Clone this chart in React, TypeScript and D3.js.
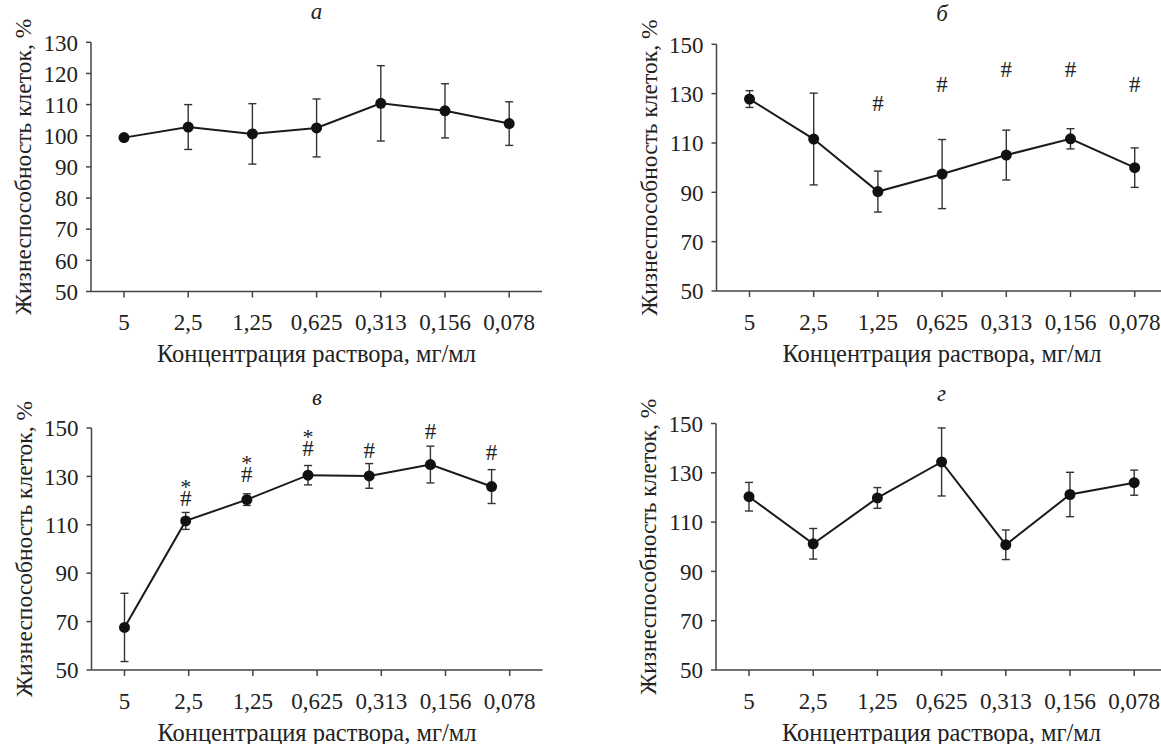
import React from 'react';
import * as d3 from 'd3';

// concentrations, mg/ml
const concentrations = ['5', '2,5', '1,25', '0,625', '0,313', '0,156', '0,078'];

// panel а
const meanA = [99.4, 102.8, 100.6, 102.5, 110.4, 108.0, 103.9];
const sdA = [0.5, 7.2, 9.7, 9.3, 12.1, 8.7, 7.0];

// panel б
const meanB = [127.8, 111.6, 90.3, 97.4, 105.1, 111.7, 100.0];
const sdB = [3.4, 18.6, 8.3, 14.0, 10.1, 4.1, 8.0];
const hashB = [null, null, 126.3, 134.2, 140.3, 140.3, 134.2];

// panel в
const meanV = [67.6, 111.6, 120.4, 130.5, 130.2, 134.9, 125.8];
const sdV = [14.1, 3.5, 2.4, 4.0, 5.1, 7.6, 7.0];
const hashV = [null, 121.3, 131.0, 141.8, 141.2, 149.0, 140.0];
const starV = [null, 128.2, 137.9, 148.9, null, null, null];

// panel г
const meanG = [120.3, 101.2, 119.8, 134.4, 100.8, 121.2, 126.0];
const sdG = [5.8, 6.2, 4.2, 13.8, 6.0, 9.0, 5.1];

const ticksA = [50, 60, 70, 80, 90, 100, 110, 120, 130];
const ticksOther = [50, 70, 90, 110, 130, 150];

const FONT = '"Liberation Serif", "Times New Roman", serif';
const yTitle = 'Жизнеспособность клеток, %';
const xTitle = 'Концентрация раствора, мг/мл';

interface PanelProps {
  letter: string;
  x0: number;
  top: number;
  bottom: number;
  domain: [number, number];
  ticks: number[];
  mean: number[];
  sd: number[];
  hash?: (number | null)[];
  star?: (number | null)[];
  pointStep?: number;
}

const Panel: React.FC<PanelProps> = ({ letter, x0, top, bottom, domain, ticks, mean, sd, hash, star, pointStep = 1 }) => {
  const axisLen = 451;
  const first = x0 + 33;
  const step = 64.2;

  const x = d3.scalePoint<string>()
    .domain(concentrations)
    .range([first, first + step * (concentrations.length - 1)]);

  // markers in some panels sit slightly off the ticks
  const xp = d3.scalePoint<string>()
    .domain(concentrations)
    .range([first, first + step * pointStep * (concentrations.length - 1)]);

  const y = d3.scaleLinear().domain(domain).range([bottom, top]);

  const line = d3.line<number>()
    .x((_, i) => xp(concentrations[i]) as number)
    .y(d => y(d));

  const mid = (x0 + x0 + axisLen) / 2;

  return (
    <g fontFamily={FONT} fill="#222">
      <text x={mid} y={top - 23} fontSize={23} fontStyle="italic" textAnchor="middle">{letter}</text>

      {/* axes */}
      <line x1={x0} x2={x0} y1={top} y2={bottom} stroke="#444" strokeWidth={1.5} />
      <line x1={x0} x2={x0 + axisLen} y1={bottom} y2={bottom} stroke="#444" strokeWidth={1.5} />

      {ticks.map(t => (
        <g key={t}>
          <line x1={x0 - 5} x2={x0} y1={y(t)} y2={y(t)} stroke="#444" strokeWidth={1.5} />
          <text x={x0 - 13} y={y(t)} dy="0.36em" fontSize={23} textAnchor="end">{t}</text>
        </g>
      ))}

      {concentrations.map(c => (
        <g key={c}>
          <line x1={x(c)} x2={x(c)} y1={bottom} y2={bottom + 6} stroke="#444" strokeWidth={1.5} />
          <text x={x(c)} y={bottom + 38.5} fontSize={23} textAnchor="middle">{c}</text>
        </g>
      ))}

      <text x={mid} y={bottom + 70.5} fontSize={24.5} textAnchor="middle">{xTitle}</text>
      <text transform={`translate(${x0 - 60},${(top + bottom) / 2}) rotate(-90)`} fontSize={23.5} textAnchor="middle">{yTitle}</text>

      {/* error bars */}
      {mean.map((m, i) => {
        const cx = xp(concentrations[i]) as number;
        const hi = y(m + sd[i]);
        const lo = y(m - sd[i]);
        return (
          <g key={i} stroke="#333" strokeWidth={1.4}>
            <line x1={cx} x2={cx} y1={hi} y2={lo} />
            <line x1={cx - 4} x2={cx + 4} y1={hi} y2={hi} />
            <line x1={cx - 4} x2={cx + 4} y1={lo} y2={lo} />
          </g>
        );
      })}

      <path d={line(mean) as string} fill="none" stroke="#1a1a1a" strokeWidth={2} />

      {mean.map((m, i) => (
        <circle key={i} cx={xp(concentrations[i])} cy={y(m)} r={5.5} fill="#111" />
      ))}

      {hash && hash.map((h, i) => h === null ? null : (
        <text key={'h' + i} x={xp(concentrations[i])} y={y(h)} dy="0.36em" fontSize={23} textAnchor="middle">#</text>
      ))}
      {star && star.map((s, i) => s === null ? null : (
        <text key={'s' + i} x={xp(concentrations[i])} y={y(s)} dy="0.6em" fontSize={22} textAnchor="middle">*</text>
      ))}
    </g>
  );
};

export default function App() {
  return (
    <div style={{ position: 'absolute', left: 0, top: 0, width: 1161, height: 744, background: '#fff' }}>
      <svg width={1161} height={744} style={{ display: 'block' }}>
        <Panel letter="а" x0={91} top={42.3} bottom={291.5} domain={[50, 130]} ticks={ticksA} mean={meanA} sd={sdA} />
        <Panel letter="б" x0={716.5} top={44.3} bottom={291} domain={[50, 150]} ticks={ticksOther} mean={meanB} sd={sdB} hash={hashB} />
        <Panel letter="в" x0={91.5} top={428} bottom={670} domain={[50, 150]} ticks={ticksOther} mean={meanV} sd={sdV} hash={hashV} star={starV} pointStep={0.953} />
        <Panel letter="г" x0={716} top={423.5} bottom={670} domain={[50, 150]} ticks={ticksOther} mean={meanG} sd={sdG} />
      </svg>
    </div>
  );
}
